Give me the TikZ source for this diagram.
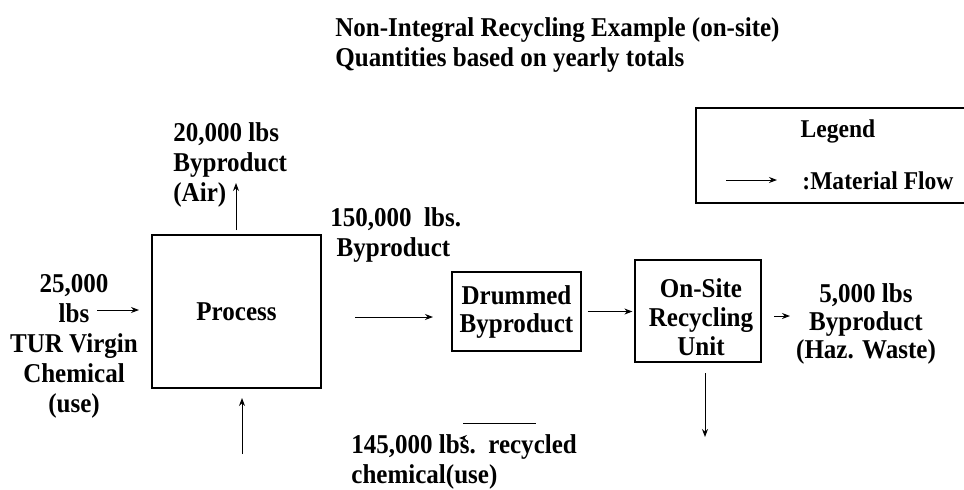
\documentclass[tikz,border=0pt]{standalone}
\usepackage{fontspec}
\setmainfont{Liberation Serif}[FakeStretch=0.92]
\usetikzlibrary{arrows.meta}

\begin{document}
\begin{tikzpicture}[x=0.5pt,y=-0.5pt,
    every node/.style={font=\fontsize{13.6}{15}\selectfont\bfseries,inner sep=0pt},
    keyfont/.style={font=\fontsize{12.8}{15}\selectfont\bfseries},
    flow/.style={-{Stealth[length=4pt,width=3pt]},line width=0.5pt},
    unit/.style={draw,line width=0.6pt,align=center}]
  \useasboundingbox (0,0) rectangle (964,489);
  \coordinate (in1) at (97,310);
  \coordinate (in2) at (139,310);
  \coordinate (air1) at (236,230);
  \coordinate (air2) at (236,183);
  \coordinate (out1) at (355,317);
  \coordinate (out2) at (433,317);
  \coordinate (haz1) at (774,316);
  \coordinate (haz2) at (790,316);
  \coordinate (rec1) at (705,373);
  \coordinate (rec2) at (705,437);
  \coordinate (back1) at (242,454);
  \coordinate (back2) at (242,398);
  \coordinate (bar1) at (463,423);
  \coordinate (bar2) at (536,423);
  \coordinate (tip1) at (461,438);
  \coordinate (tip2) at (459,438);
  \coordinate (key1) at (726,180);
  \coordinate (key2) at (777,180);
  \node[anchor=west,align=left] (title) at (335,44.5)
    {Non-Integral Recycling Example (on-site)\\Quantities based on yearly totals};
  \node[draw,line width=1pt,anchor=north west,minimum width=142pt,minimum height=47.5pt]
    (legend) at (695,107) {};
  \node[keyfont] (legendtitle) at (838,131) {Legend};
  \node[keyfont,anchor=west] (keytext) at (802,181) {:Material Flow};
  \node[unit,minimum width=84.5pt,minimum height=76.5pt]
    (process) at (236.5,311.5) {Process};
  \node[unit,minimum width=64.5pt,minimum height=39.5pt,font=\fontsize{13.6}{14}\selectfont\bfseries]
    (drum) at (516.5,311.5) {Drummed\\Byproduct};
  \node[unit,minimum width=63pt,minimum height=51pt]
    (onsite) at (698,311) {};
  \node[align=center,font=\fontsize{13.6}{14.5}\selectfont\bfseries] (onsitetext) at (701,317)
    {On-Site\\Recycling\\Unit};
  \node[align=center] (virgin) at (74,346)
    {25,000\\lbs\\TUR Virgin\\Chemical\\(use)};
  \node[anchor=west,align=left] (air) at (173,165)
    {20,000 lbs\\Byproduct\\(Air)};
  \node[anchor=west,align=left] (byproduct) at (330,234.5)
    {150,000\ \ lbs.\\\ Byproduct};
  \node[align=center,font=\fontsize{13.6}{14}\selectfont\bfseries] (haz) at (866,324)
    {5,000 lbs\\Byproduct\\(Haz. Waste)};
  \node[anchor=west,align=left] (recycled) at (351,461.5)
    {145,000 lbs.\ \ recycled\\chemical(use)};
  \draw[flow]
    (in1)
    --
    (in2);
  \draw[flow]
    (air1)
    --
    (air2);
  \draw[flow]
    (out1)
    --
    (out2);
  \draw[flow,shorten <=3pt,shorten >=1pt]
    (drum.east)
    --
    (drum.east -| onsite.west);
  \draw[flow]
    (haz1)
    --
    (haz2);
  \draw[flow]
    (rec1)
    --
    (rec2);
  \draw[flow]
    (back1)
    --
    (back2);
  \draw[line width=0.5pt]
    (bar1)
    --
    (bar2);
  \draw[flow]
    (tip1)
    --
    (tip2);
  \draw[flow]
    (key1)
    --
    (key2);
\end{tikzpicture}
\end{document}
